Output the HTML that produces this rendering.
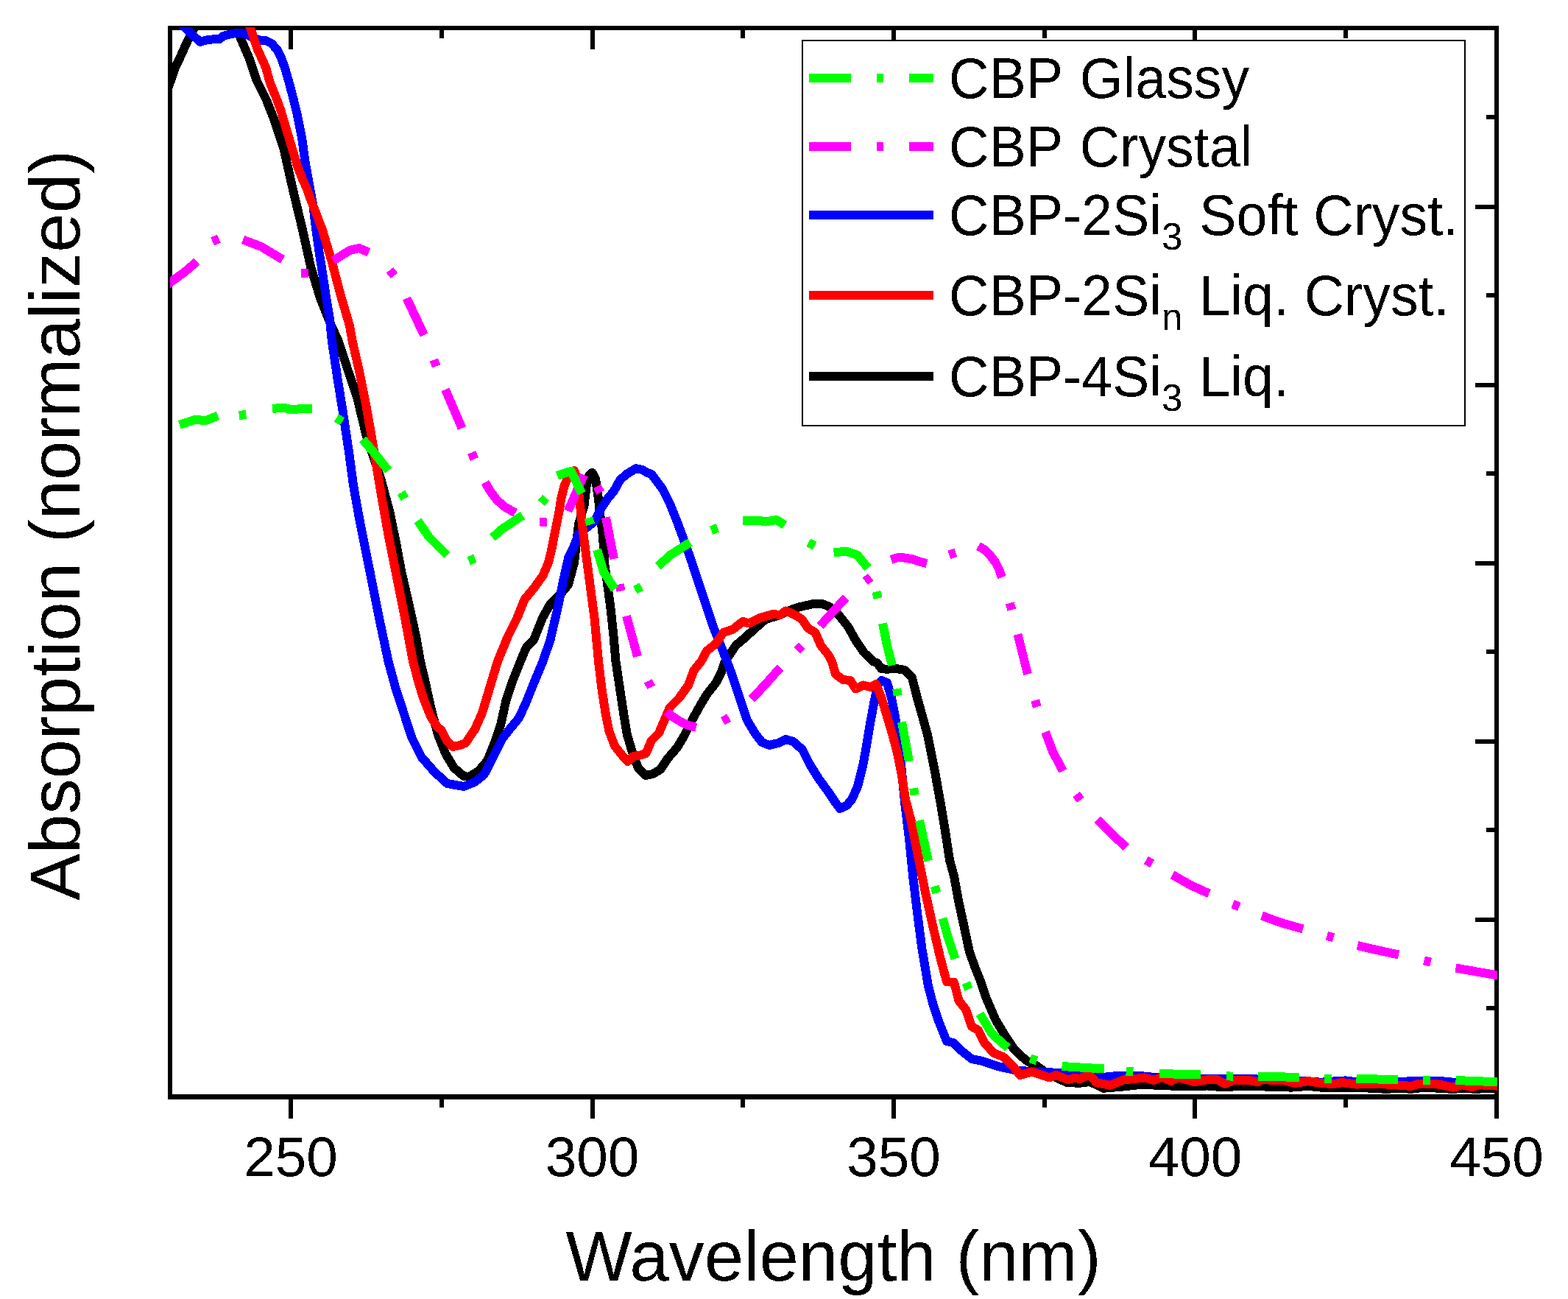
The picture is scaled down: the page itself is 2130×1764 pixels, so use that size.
<!DOCTYPE html>
<html lang="en"><head><meta charset="utf-8"><title>Absorption (normalized) vs Wavelength (nm)</title>
<style>html,body{margin:0;padding:0;background:#fff}body{width:2130px;height:1764px;overflow:hidden}svg{display:block}text{font-family:"Liberation Sans",Arial,Helvetica,sans-serif;fill:#000}</style></head><body>
<svg width="2130" height="1764" viewBox="0 0 2130 1764">
<rect x="0" y="0" width="2130" height="1764" fill="#fff"/>
<defs><clipPath id="plot"><rect x="231" y="37" width="1803" height="1453"/></clipPath><filter id="bin" x="-5%" y="-20%" width="110%" height="140%" color-interpolation-filters="sRGB"><feComponentTransfer><feFuncA type="discrete" tableValues="0 1"/></feComponentTransfer></filter></defs>
<g fill="#000" shape-rendering="crispEdges">
<rect x="228" y="35" width="1808" height="6"/>
<rect x="228" y="1486" width="1808" height="7"/>
<rect x="228" y="35" width="6" height="1458"/>
<rect x="2030" y="35" width="6" height="1458"/>
<rect x="392" y="1490" width="6" height="29"/>
<rect x="392" y="38" width="6" height="29"/>
<rect x="597" y="1490" width="6" height="14"/>
<rect x="597" y="38" width="6" height="14"/>
<rect x="802" y="1490" width="6" height="29"/>
<rect x="802" y="38" width="6" height="29"/>
<rect x="1006" y="1490" width="6" height="14"/>
<rect x="1006" y="38" width="6" height="14"/>
<rect x="1211" y="1490" width="6" height="29"/>
<rect x="1211" y="38" width="6" height="29"/>
<rect x="1416" y="1490" width="6" height="14"/>
<rect x="1416" y="38" width="6" height="14"/>
<rect x="1620" y="1490" width="6" height="29"/>
<rect x="1620" y="38" width="6" height="29"/>
<rect x="1825" y="1490" width="6" height="14"/>
<rect x="1825" y="38" width="6" height="14"/>
<rect x="2030" y="1490" width="6" height="29"/>
<rect x="2030" y="38" width="6" height="29"/>
<rect x="2019" y="156" width="14" height="6"/>
<rect x="2004" y="278" width="29" height="6"/>
<rect x="2019" y="398" width="14" height="6"/>
<rect x="2004" y="520" width="29" height="6"/>
<rect x="2019" y="640" width="14" height="6"/>
<rect x="2004" y="762" width="29" height="6"/>
<rect x="2019" y="882" width="14" height="6"/>
<rect x="2004" y="1004" width="29" height="6"/>
<rect x="2019" y="1124" width="14" height="6"/>
<rect x="2004" y="1246" width="29" height="6"/>
<rect x="2019" y="1366" width="14" height="6"/>
</g>
<g clip-path="url(#plot)" fill="none" stroke-width="12" stroke-linejoin="round" stroke-linecap="butt" shape-rendering="crispEdges">
<polyline points="225,130 231,112 238,92 246,75 255,55 262,42 268,30 290,15 312,20 322,38 326,50 338,78 349,110 362,136 373,164 385,200 398,258 411,312 422,362 435,405 450,442 460,464 472,501 485,539 497,589 507,620 517,649 529.3,695 538,737 545,775 554,814 565,864 571,898 577,923 585,960 595,998 605,1023 617,1043 630,1054 637,1055 650,1047 662,1033 672,1008 680,985 687,953 697,923 707,898 715,879 725,869 737,839 747,821 762,806 772,794 780,764 786,712 793.6,686 796.6,660 800,646 804.4,641.8 809,650 813,677.6 814.7,695 818.2,721 820.3,746.6 821,764 824.5,789 829.5,826 833.5,864 836.5,898 842,935 847,968 852,998 860,1025 867,1043 877,1053 887,1051 897,1045 907,1030 920,1015 930,998 940,978 950,960 960,943 972,928 980,913 985,898 1000,876 1012,866 1025,854 1040,841 1057,836 1075,828 1087,824 1105,820 1117,820 1127,824 1140,836 1152,851 1162,869 1173.5,886 1185.6,898 1191.6,900.5 1197.6,908.3 1206.3,908.7 1214.9,907.4 1228.7,910 1239,920.4 1246,948 1250,962 1260,998 1270,1048 1279,1098 1285,1135 1290,1168 1296,1190 1302,1223 1310,1260 1317,1293 1325,1315 1331,1330 1340,1356 1352,1384 1365,1406 1377,1424 1385.7,1433 1397,1442 1408.6,1447.7 1420,1456 1434.9,1463.4 1448.6,1469.7 1465.7,1470.9 1480.6,1469 1498.9,1477.7 1522.9,1475.8 1551.4,1472.6 1580,1474.3 1608.6,1474.9 1640,1474.5 1664,1476.5 1680,1475 1714.3,1475.4 1754.3,1476.6 1777.1,1474.9 1794.3,1476.6 1840,1476.6 1885.1,1478.9 1900,1477.5 1917.1,1478.9 1934.3,1476.6 1974.3,1478.9 1990,1477.5 2002.9,1478.9 2040,1477" stroke="#000000"/>
<polyline points="235,20 250.6,37 262,48 271.9,56.8 280.5,54.5 289.7,53.3 297.7,53.3 303.5,48.7 315,45.9 324.2,44.7 332.2,45.9 343.7,51 352.9,54.5 361,55 369,59 377,68.3 383,81 388,95.9 393.3,114.3 398.7,135 404.3,158 410,186.7 414.5,220 419.5,247 425.5,280 429,310 433.5,342 437.5,367 442.5,400 447.5,430 451,464 458.5,514 466.5,564 474,614 480,659 487.5,701 495,739 502.5,776 510,814 517.5,851 527.5,898 537.5,935 550,973 560,1003 572.5,1028 590,1048 607.5,1064 630,1068 645,1062 657.5,1052 670,1028 682.5,1003 692.5,990 705,975 715,953 725,928 737.5,898 747.5,869 757.5,826 765,789 772.5,756 777.6,746.6 786.3,725 799.2,714.7 807.8,707.8 816.4,690.6 825,677.6 833.7,667.3 842.3,651.8 851,644 863.9,636.2 872.5,638 880,642.3 885,644 900,664 910,684 920,709 930,736 940,764 950,794 960,824 970,854 980,879 987.5,898 995,918 1005,948 1015,978 1025,995 1035,1008 1045,1012 1057.5,1009 1067.5,1004 1077.5,1007 1090,1018 1100,1038 1112.5,1058 1125,1075 1135,1090 1141,1098 1150,1094 1157.5,1085 1165,1068 1172.5,1038 1177.5,1010 1182.5,980 1187.5,953 1192.5,930 1197.5,924 1205,927 1211,948 1216,973 1221,1010 1225,1048 1229,1089 1235,1139 1240,1189 1246,1239 1252.5,1289 1261,1339 1267.5,1364 1276,1389 1286,1414 1295,1416 1305,1426 1320,1438 1335,1441 1355,1448 1383,1454 1414,1455.4 1437,1457 1470,1459.5 1500,1462.8 1517,1461 1549,1461 1567,1462.8 1600,1463.5 1634,1465 1697,1465 1740,1467 1771,1468 1794,1469.7 1828,1467.4 1837,1468.5 1911,1468.5 1928,1468 1957,1468 1974,1469.7 2040,1469" stroke="#0000ff"/>
<polyline points="330,10 339.7,37 349.5,66 361,91.3 366.7,112 376,135 381.5,150 389,175.9 396.9,201.7 404.7,227.6 411.6,244.9 417.6,257.8 421.9,270.8 428.8,288 433.2,300 437.5,311 450,352.5 462.5,400 475,442.5 478.8,464 487.5,501.5 497.5,551.5 505,594 512.5,639 520,684 527.5,726.5 535,764 542.5,801.5 550,839 561,898 567.5,923 575,948 585,973 594,987 600,992 607.5,1007 615,1014 625,1012 632.5,1009 645,990.5 655,968 662.5,943 670,918 676,898 690,864 702.5,839 712.5,814 725,799 737.5,781.5 745,764 749.2,746.6 754.3,720.8 759.5,694.9 762.1,677.6 766.4,660.4 769.9,651.8 775,642 780,639 784,650 788,686.3 791.9,720.8 795.3,746.6 797.5,764 802.5,801.5 807.5,839 811,876.5 813,898 817.5,935.5 822.5,968 827.5,993 835,1013 845,1025.5 852.5,1034 860,1027 870,1025.5 877.5,1023 885,1005.5 895,995.5 902.5,978 910,960.5 922.5,948 935,930.5 942.5,910.5 952.5,898 960,884 972.5,874 982.5,859 995,855 1009,844 1017.5,846.5 1032.5,839 1050,834 1060,835 1067.5,829.5 1080,835 1090,841.5 1097.5,853 1107.5,859 1115,876.5 1125,889 1130,898 1135,915.5 1145,923 1155,924 1162.5,935.5 1172.5,930.5 1182.5,933 1190,929 1197.5,948 1205,973 1212.5,998 1219,1023 1225,1053 1230,1085.5 1237.5,1114 1247.5,1164 1257.5,1214 1267.5,1259 1277.5,1301.5 1286,1333 1296,1334 1302.5,1359 1312.5,1371.5 1320,1394 1329,1399 1337.5,1416.5 1350,1430 1362.5,1435 1375,1446.5 1385.7,1460 1401.7,1455.5 1412,1459 1425.7,1463.5 1434.9,1460 1450.9,1466.3 1460,1463.5 1466.9,1465.2 1479.4,1459.5 1489.7,1470.3 1508,1473.8 1526.3,1466.3 1540,1465.2 1554.9,1463.5 1567.4,1466.9 1578.9,1462.9 1590.3,1468 1600.6,1463.5 1622.9,1469.2 1640,1466.3 1653.7,1466.3 1664,1472 1674.3,1467 1697.1,1467 1708.6,1469.3 1714.3,1466.3 1742.9,1467 1760,1471 1777.1,1468 1794.3,1471 1811.4,1472 1822.9,1470 1842.9,1472.6 1862.3,1471.5 1885.1,1472.6 1917.1,1474.9 1928.6,1471.5 1949.1,1471.5 1974.3,1476.6 1985.7,1473.2 1999.4,1476 2009.7,1473.2 2040,1475" stroke="#ff0000"/>
<g stroke="#ff00ff" stroke-linecap="butt"><polyline points="225,388 250,370 267.5,355"/><polyline points="288.7,328 297.3,324"/><polyline points="330,325.5 355,335 384,352.5"/><polyline points="409.3,370.9 418.7,371.1"/><polyline points="452.5,354 475,340 487.5,337 501,342.5"/><polyline points="529.5,366.8 535.5,374.2"/><polyline points="552.5,405 576,455"/><polyline points="589.3,488.6 592.7,497.4"/><polyline points="605,529 627.5,581.5"/><polyline points="640.6,614.6 644.4,623.4"/><polyline points="659,655 666,667 675,679 686,688.5 700,696.5"/><polyline points="733.3,709 742.7,708.6"/><polyline points="771.6,694 793.2,644.9"/><polyline points="811.2,660.5 815.6,668.9"/><polyline points="822.9,702.6 834,759"/><polyline points="841.5,793.4 843.5,802.6"/><polyline points="851,836.5 866,891.5"/><polyline points="880.3,924.8 884.7,933.2"/><polyline points="905.7,966.4 912,972 920.4,977.6 933.3,984.5 945.8,987.8"/><polyline points="981.8,979.2 990.2,974.8"/><polyline points="1021,949.5 1040,929 1060,906.5"/><polyline points="1082.7,883.4 1089.3,876.6"/><polyline points="1114,850 1149,811.5"/><polyline points="1175.4,789.5 1182.6,783.5"/><polyline points="1210.5,760 1218,757.5 1226,757 1240,759.5 1250,763 1259,765"/><polyline points="1289.5,753.5 1298.5,750.5"/><polyline points="1329,741.5 1337.5,746.5 1345,754 1352.5,764 1357.5,774 1361,784"/><polyline points="1371.7,818.9 1374.3,828.1"/><polyline points="1382.5,861.5 1396,915.5"/><polyline points="1406.1,951 1408.9,960"/><polyline points="1420,994 1430,1020.5 1444,1047"/><polyline points="1462.2,1078.6 1467.8,1086.4"/><polyline points="1491,1113 1515,1137 1530,1150.5"/><polyline points="1556.9,1168.1 1565.1,1172.9"/><polyline points="1592.5,1188 1617.5,1202 1642.5,1213.5"/><polyline points="1674.6,1227.7 1683.4,1231.3"/><polyline points="1714,1243.5 1740,1253 1770,1261.5"/><polyline points="1802.5,1270.6 1811.5,1273.4"/><polyline points="1844,1284 1870,1290 1900,1296.5"/><polyline points="1934.4,1304.4 1943.6,1306.6"/><polyline points="1977.5,1314.5 2040,1325.5"/></g>
<g stroke="#00ff00" stroke-linecap="butt"><polyline points="244,577 265,570 280,571 296,564.5"/><polyline points="324.8,564.1 334.2,562.9"/><polyline points="370,555 385,553.5 395,556 424,554.5"/><polyline points="457,567.5 465,572.5"/><polyline points="492.5,596.5 507.5,614 527.5,639"/><polyline points="545.1,668.9 549.9,677.1"/><polyline points="567.5,707 582.5,729 607.5,754"/><polyline points="636.6,761.7 645.4,758.3"/><polyline points="669,730 682.5,718 710,700"/><polyline points="735.3,683 741.5,675.8"/><polyline points="757,646 771,641 776,640 790,670"/><polyline points="799.6,703.2 802.2,712.4"/><polyline points="811,746.5 820,776.5 835,800"/><polyline points="862.8,801.2 871.2,796.8"/><polyline points="894,769 910,754 937.5,736.5"/><polyline points="966.1,720.3 974.9,716.7"/><polyline points="1009,707 1030,706.5 1040,708.5 1055,706 1066,713"/><polyline points="1098.3,736.7 1106.7,741.3"/><polyline points="1132.5,750 1150,749 1165,754 1179,771.5"/><polyline points="1190.3,803.4 1192.7,812.6"/><polyline points="1199,846.5 1205,876.5 1212,903.5"/><polyline points="1218.2,935.3 1219.8,944.7"/><polyline points="1225,980.5 1235,1034"/><polyline points="1241.2,1070.3 1242.8,1079.7"/><polyline points="1249,1114 1261,1169"/><polyline points="1269.8,1203.4 1272.2,1212.6"/><polyline points="1280.5,1247 1289,1277 1297.5,1302"/><polyline points="1312.1,1334.7 1315.9,1343.3"/><polyline points="1331,1376.5 1347.5,1404 1369,1423"/><polyline points="1399.5,1437.5 1408.5,1440.5"/><polyline points="1442.5,1448 1475,1450 1500,1451.5"/><polyline points="1529.8,1454.6 1539.2,1455.4"/><polyline points="1575,1458 1631,1459.5"/><polyline points="1665.8,1461.4 1675.2,1461.6"/><polyline points="1709,1461.5 1765,1463"/><polyline points="1799.3,1464.9 1808.7,1465.1"/><polyline points="1842.5,1465 1899,1466"/><polyline points="1933.3,1466.9 1942.7,1467.1"/><polyline points="1977.5,1467 2040,1469.5"/></g>
</g>
<g shape-rendering="crispEdges">
<rect x="1090" y="55" width="900" height="523" fill="#fff" stroke="#000" stroke-width="2"/>
<g fill="none" stroke-width="12">
<path d="M1098.5 106H1268" stroke="#00ff00" stroke-dasharray="57.5 34.5 9.5 34.5"/>
<path d="M1098.5 199H1268" stroke="#ff00ff" stroke-dasharray="57.5 34.5 9.5 34.5"/>
<path d="M1098.5 292H1268" stroke="#0000ff"/>
<path d="M1098.5 401H1268" stroke="#ff0000"/>
<path d="M1098.5 511H1268" stroke="#000000"/>
</g></g>
<g filter="url(#bin)">
<text transform="translate(1289 133) scale(0.979 1)" font-size="77">CBP<tspan dx="2.0"> Glassy</tspan></text>
<text transform="translate(1289 226) scale(0.979 1)" font-size="77">CBP<tspan dx="2.0"> Crystal</tspan></text>
<text transform="translate(1289 319) scale(0.979 1)" font-size="77">CBP-2Si<tspan font-size="52" dy="20">3</tspan><tspan dy="-20" dx="2.0"> Soft Cryst.</tspan></text>
<text transform="translate(1289 428) scale(0.979 1)" font-size="77">CBP-2Si<tspan font-size="52" dy="20">n</tspan><tspan dy="-20" dx="2.0"> Liq. Cryst.</tspan></text>
<text transform="translate(1289 538) scale(0.979 1)" font-size="77">CBP-4Si<tspan font-size="52" dy="20">3</tspan><tspan dy="-20" dx="2.0"> Liq.</tspan></text>
<text x="395" y="1597" font-size="76.5" text-anchor="middle">250</text>
<text x="804.5" y="1597" font-size="76.5" text-anchor="middle">300</text>
<text x="1214" y="1597" font-size="76.5" text-anchor="middle">350</text>
<text x="1623.5" y="1597" font-size="76.5" text-anchor="middle">400</text>
<text x="2033" y="1597" font-size="76.5" text-anchor="middle">450</text>
<text x="1132" y="1739" font-size="96" text-anchor="middle">Wavelength (nm)</text>
<text transform="translate(108 1223) rotate(-90)" font-size="96">Absorption (normalized)</text>
</g>
</svg></body></html>
